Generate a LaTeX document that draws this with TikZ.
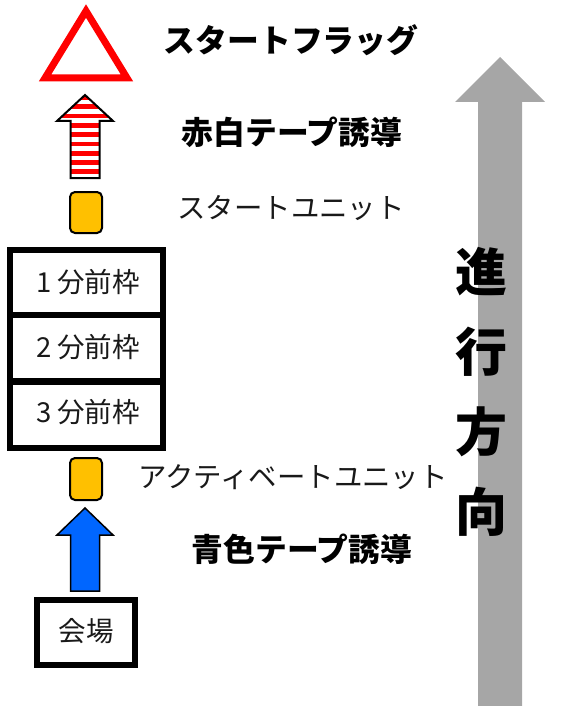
\documentclass[tikz,border=0pt]{standalone}
\usepackage{fontspec}
\setmainfont{Noto Sans CJK JP}
\usetikzlibrary{positioning}

\definecolor{flagred}{HTML}{FF0000}
\definecolor{unitorange}{HTML}{FFC000}
\definecolor{tapeblue}{HTML}{0066FF}
\definecolor{dirgray}{HTML}{A6A6A6}

\newcommand{\uparrowpath}[6]{
	\pgfmathsetmacro{\UAx}{#1}
	\pgfmathsetmacro{\UAtip}{#2}
	\pgfmathsetmacro{\UAneck}{#3}
	\pgfmathsetmacro{\UAfoot}{#4}
	\pgfmathsetmacro{\UAwl}{#1-#5}
	\pgfmathsetmacro{\UAwr}{#1+#5}
	\pgfmathsetmacro{\UAsl}{#1-#6}
	\pgfmathsetmacro{\UAsr}{#1+#6}
	\path[save path=\UApath] (\UAx,\UAtip) -- (\UAwr,\UAneck) -- (\UAsr,\UAneck) -- (\UAsr,\UAfoot)
		-- (\UAsl,\UAfoot) -- (\UAsl,\UAneck) -- (\UAwl,\UAneck) -- cycle;
}

\tikzset{
	boldlabel/.style={font=\fontsize{31.8}{34}\selectfont\bfseries, text=black},
	plainlabel/.style={font=\fontsize{28.4}{30}\selectfont, text=black!90},
	framelabel/.style={font=\fontsize{27.5}{30}\selectfont, text=black!90},
	dirlabel/.style={font=\fontsize{52}{56}\selectfont\bfseries, text=black},
	frame/.style={draw=black, line width=6.5pt},
	unit/.style={draw=black, fill=unitorange, line width=2pt, rounded corners=5pt}
}

\begin{document}
\begin{tikzpicture}[x=1pt,y=-1pt]
\useasboundingbox (0,0) rectangle (568,706);

% direction arrow
\uparrowpath{500}{57}{102}{712}{45}{22}
\fill[dirgray, use path=\UApath];
\node[dirlabel] (shin) at (481,272) {進};
\node[dirlabel] (kou) at (481,352) {行};
\node[dirlabel] (hou) at (481,432) {方};
\node[dirlabel] (kouB) at (481,512) {向};

% start flag
\draw[flagred, line width=7pt] (86,11) -- (127,78) -- (45,78) -- cycle;
\node[boldlabel] (flag) at (291,40) {スタートフラッグ};

% red and white tape
\uparrowpath{85}{95}{121}{178}{28}{14.5}
\begin{scope}
	\clip[use path=\UApath];
	\fill[white] (50,90) rectangle (120,180);
	\foreach \k in {0,...,9}
		\fill[flagred] (50,95+\k*9.3) rectangle (120,95+\k*9.3+4.8);
\end{scope}
\draw[black, line width=2pt, use path=\UApath];
\node[boldlabel] (redtape) at (292,132) {赤白テープ誘導};

% start unit
\draw[unit] (70,192) rectangle (102,233);
\node[plainlabel] (startunit) at (291,208) {スタートユニット};

% frames
\draw[frame] (10,250) rectangle (163,315);
\draw[frame] (10,315) rectangle (163,381.5);
\draw[frame] (10,381.5) rectangle (163,448);
\node[framelabel] (frameA) at (88,282) {1 分前枠};
\node[framelabel] (frameB) at (88,347) {2 分前枠};
\node[framelabel] (frameC) at (88,412) {3 分前枠};

% activate unit
\draw[unit] (70,458) rectangle (102,500);
\node[plainlabel] (actunit) at (293,477) {アクティベートユニット};

% blue tape
\uparrowpath{85}{508}{535}{591}{28}{14.5}
\draw[black, fill=tapeblue, line width=1.5pt, use path=\UApath];
\node[boldlabel] (bluetape) at (302,549) {青色テープ誘導};

% venue
\draw[frame] (37,600) rectangle (135,665);
\node[framelabel] (venue) at (86,631) {会場};
\end{tikzpicture}
\end{document}
